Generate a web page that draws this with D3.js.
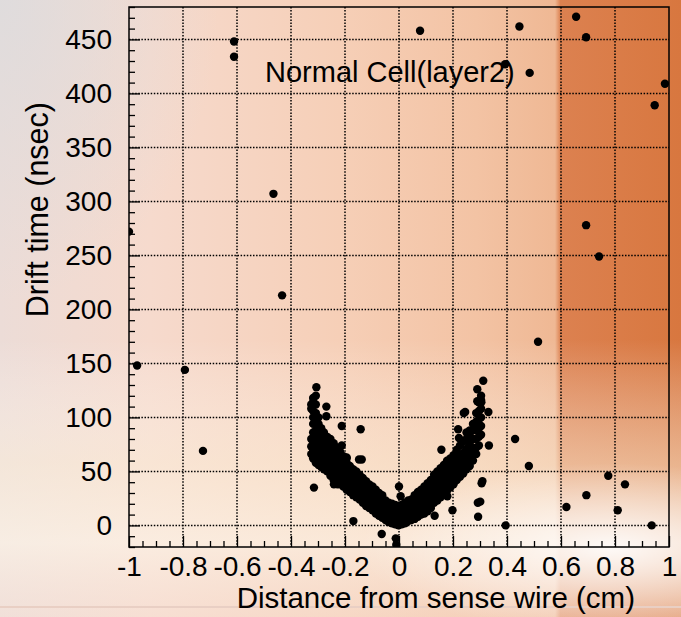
<!DOCTYPE html>
<html>
<head>
<meta charset="utf-8">
<script src="https://cdn.jsdelivr.net/npm/d3@7"></script>
<style>
  body { margin: 0; padding: 0; overflow: hidden; }
  svg { display: block; font-family: "Liberation Sans", Arial, sans-serif; }
</style>
</head>
<body>
<script>
// isolated hits [distance (cm), drift time (nsec)]
var outliers = [
    [-0.611, 448], [-0.611, 434], [0.078, 458], [0.446, 462], [0.656, 471],
    [0.693, 452], [0.393, 427], [0.484, 419], [0.985, 409], [0.947, 389],
    [-0.465, 307], [-1.0, 272], [0.693, 278], [0.741, 249], [-0.433, 213],
    [0.515, 170], [-0.970, 148], [-0.793, 144], [-0.726, 69],
    [0.430, 80], [0.481, 55], [0.395, 0], [0.620, 17], [0.694, 28],
    [0.775, 46], [0.837, 38], [0.810, 14], [0.936, 0]
];

// scattered hits close to the V band
var nearBand = [
    [-0.306, 128], [-0.269, 110], [-0.269, 101], [-0.212, 92], [-0.212, 74],
    [-0.194, 63], [-0.315, 35], [-0.241, 38], [-0.228, 38], [-0.169, 4],
    [-0.142, 89], [-0.148, 61], [-0.138, 61], [-0.064, -8], [-0.012, -12],
    [-0.010, -18], [0.000, 36], [0.006, 27],
    [0.132, 9], [0.179, 27], [0.198, 14], [0.157, 70], [0.245, 105],
    [0.240, 104], [0.219, 89], [0.222, 81], [0.290, 126], [0.312, 134],
    [0.290, 115], [0.305, 114], [0.331, 105], [0.333, 74], [0.306, 39],
    [0.309, 41], [0.292, 21], [0.301, 22], [0.293, 8]
];

// the dense V band, read column by column: [distance, [drift times]]
var bandColumns = [
    [-0.325, [66, 73, 80, 108, 112]],
    [-0.318, [62, 70, 78, 86, 94, 100, 106, 114, 118]],
    [-0.308, [58, 64, 72, 80, 88, 96, 104, 112, 120]],
    [-0.298, [56, 62, 70, 78, 86, 94, 100]],
    [-0.288, [54, 60, 66, 74, 82, 90]],
    [-0.278, [52, 58, 64, 72, 80, 86]],
    [-0.266, [50, 56, 62, 70, 78, 82]],
    [-0.254, [46, 52, 58, 66, 74, 80]],
    [-0.242, [42, 48, 54, 62, 70, 76]],
    [-0.230, [40, 46, 52, 58, 66, 72]],
    [-0.218, [38, 44, 50, 56, 62, 68]],
    [-0.206, [36, 42, 48, 54, 60, 64]],
    [-0.194, [33, 39, 45, 51, 58, 62]],
    [-0.182, [31, 37, 43, 49, 55]],
    [-0.170, [28, 34, 40, 46, 52]],
    [-0.158, [26, 32, 38, 44, 50]],
    [-0.146, [24, 30, 36, 42, 47]],
    [-0.134, [21, 27, 33, 39, 44]],
    [-0.122, [18, 24, 30, 36, 41]],
    [-0.110, [16, 22, 28, 34, 38]],
    [-0.098, [14, 20, 26, 32, 36]],
    [-0.086, [11, 17, 23, 29, 33]],
    [-0.074, [9, 15, 21, 27, 30]],
    [-0.062, [7, 13, 19, 25, 28]],
    [-0.050, [5, 11, 17, 23]],
    [-0.038, [3, 9, 15, 21]],
    [-0.026, [2, 8, 14, 20]],
    [-0.014, [1, 7, 13, 19]],
    [-0.002, [0, 6, 12, 18]],
    [0.010, [1, 7, 13, 19]],
    [0.022, [2, 8, 14, 21]],
    [0.034, [4, 10, 16, 23]],
    [0.046, [5, 11, 17, 24]],
    [0.058, [6, 12, 18, 24, 28]],
    [0.070, [8, 14, 20, 26, 31]],
    [0.082, [10, 16, 22, 28, 33]],
    [0.094, [11, 17, 23, 29, 36]],
    [0.106, [13, 19, 25, 31, 39]],
    [0.118, [16, 22, 28, 34, 42]],
    [0.130, [21, 27, 33, 39, 47]],
    [0.142, [23, 29, 35, 42, 50]],
    [0.154, [26, 32, 38, 45, 53]],
    [0.166, [29, 35, 41, 48, 56]],
    [0.178, [32, 38, 44, 51, 60]],
    [0.190, [35, 41, 47, 54, 62]],
    [0.202, [38, 44, 50, 57, 65]],
    [0.214, [42, 48, 54, 61, 70]],
    [0.226, [45, 51, 57, 64, 74]],
    [0.238, [48, 54, 60, 67, 78]],
    [0.250, [52, 58, 64, 71, 80, 86]],
    [0.262, [55, 62, 68, 75, 83, 88]],
    [0.274, [60, 66, 72, 80, 88, 94]],
    [0.286, [66, 72, 80, 88, 96, 104]],
    [0.296, [74, 82, 90, 98, 106, 114]],
    [0.304, [84, 92, 100, 108, 116, 120]]
];

var xMajor = [-1, -0.8, -0.6, -0.4, -0.2, 0, 0.2, 0.4, 0.6, 0.8, 1];
var yMajor = [0, 50, 100, 150, 200, 250, 300, 350, 400, 450];
var xTitle = "Distance from sense wire (cm)";
var yTitle = "Drift time (nsec)";
var plotLabel = "Normal Cell(layer2)";

var width = 681;
var height = 617;
var plotLeft = 129, plotRight = 669, plotTop = 7, plotBottom = 547;

var svg = d3.select("body").append("svg").attr("width", width).attr("height", height);
var defs = svg.append("defs");

// slide background
var bgH = defs.append("linearGradient").attr("id", "bgH").attr("x1", 0).attr("x2", 1).attr("y1", 0).attr("y2", 0);
[[0, "#ecdcd7"], [0.22, "#f6dacd"], [0.5, "#f6cfb7"], [0.7, "#f3c3a4"], [0.815, "#efb894"], [0.823, "#dc8150"], [1, "#d8773f"]]
    .forEach(function(s) { bgH.append("stop").attr("offset", s[0]).attr("stop-color", s[1]); });

var bgV = defs.append("linearGradient").attr("id", "bgV").attr("x1", 0).attr("x2", 0).attr("y1", 0).attr("y2", 1);
[[0, "#fff", 0], [0.55, "#fff", 0], [0.75, "#fbf0dc", 0.5], [0.88, "#fdf6ea", 0.65], [1, "#f8e6dc", 0.4]]
    .forEach(function(s) { bgV.append("stop").attr("offset", s[0]).attr("stop-color", s[1]).attr("stop-opacity", s[2]); });

var glow = defs.append("radialGradient").attr("id", "glow").attr("cx", 0.5).attr("cy", 0.5).attr("r", 0.5);
glow.append("stop").attr("offset", 0).attr("stop-color", "#ffffff").attr("stop-opacity", 0.9);
glow.append("stop").attr("offset", 1).attr("stop-color", "#ffffff").attr("stop-opacity", 0);

var grey = defs.append("radialGradient").attr("id", "grey").attr("cx", 0).attr("cy", 0).attr("r", 1);
grey.append("stop").attr("offset", 0).attr("stop-color", "#dcdcde").attr("stop-opacity", 0.8);
grey.append("stop").attr("offset", 1).attr("stop-color", "#dcdcde").attr("stop-opacity", 0);

svg.append("rect").attr("width", width).attr("height", height).attr("fill", "url(#bgH)");
svg.append("rect").attr("width", width).attr("height", height).attr("fill", "url(#bgV)");
svg.append("ellipse").attr("cx", 610).attr("cy", 548).attr("rx", 250).attr("ry", 85).attr("fill", "url(#glow)");
svg.append("rect").attr("width", 220).attr("height", 300).attr("fill", "url(#grey)");
svg.append("rect").attr("x", 0).attr("y", 606).attr("width", width).attr("height", 2).attr("fill", "#e9cfc4");

var xScale = d3.scaleLinear().domain([-1, 1]).range([plotLeft, plotRight]);
var yScale = d3.scaleLinear().domain([-20, 480]).range([plotBottom, plotTop]);

// grid
svg.append("g")
    .selectAll("line")
    .data(xMajor.slice(1, -1))
    .enter()
    .append("line")
    .attr("x1", function(d) { return xScale(d); })
    .attr("x2", function(d) { return xScale(d); })
    .attr("y1", plotTop)
    .attr("y2", plotBottom)
    .attr("stroke", "#000")
    .attr("stroke-width", 1.5)
    .attr("stroke-dasharray", "1.5,1.6");

svg.append("g")
    .selectAll("line")
    .data(yMajor)
    .enter()
    .append("line")
    .attr("x1", plotLeft)
    .attr("x2", plotRight)
    .attr("y1", function(d) { return yScale(d); })
    .attr("y2", function(d) { return yScale(d); })
    .attr("stroke", "#000")
    .attr("stroke-width", 1.5)
    .attr("stroke-dasharray", "1.5,1.6");

// points
var points = [];
outliers.forEach(function(p) { points.push(p); });
nearBand.forEach(function(p) { points.push(p); });
bandColumns.forEach(function(c) {
    c[1].forEach(function(t) { points.push([c[0], t]); });
});

defs.append("clipPath").attr("id", "plotClip")
    .append("rect").attr("x", plotLeft).attr("y", plotTop)
    .attr("width", plotRight - plotLeft).attr("height", plotBottom - plotTop);

svg.append("g")
    .attr("clip-path", "url(#plotClip)")
    .selectAll("circle")
    .data(points)
    .enter()
    .append("circle")
    .attr("cx", function(d) { return xScale(d[0]); })
    .attr("cy", function(d) { return yScale(d[1]); })
    .attr("r", 4.2)
    .attr("fill", "#000");

// axes: ticks point inward like ROOT
var fontSize = 28;
var labelFont = "Liberation Sans, Arial, sans-serif";

var yMinor = d3.range(-20, 481, 10).filter(function(v) { return v % 50 != 0; });
svg.append("g")
    .attr("transform", "translate(" + plotLeft + ",0)")
    .call(d3.axisLeft(yScale).tickValues(yMinor).tickSize(-6).tickFormat(""))
    .call(function(g) { g.select(".domain").remove(); })
    .selectAll("line").attr("stroke", "#000").attr("stroke-width", 1.3);

var yAxis = svg.append("g")
    .attr("transform", "translate(" + plotLeft + ",0)")
    .call(d3.axisLeft(yScale).tickValues(yMajor).tickSize(-11).tickPadding(17)
        .tickFormat(function(d) { return String(d); }));
yAxis.select(".domain").remove();
yAxis.selectAll("line").attr("stroke", "#000").attr("stroke-width", 1.3);
yAxis.selectAll("text").attr("fill", "#000").style("font-size", fontSize + "px").style("font-family", labelFont);

var xMinor = d3.range(-1, 1.0001, 0.05).filter(function(v) { return Math.abs(Math.round(v * 5) - v * 5) > 0.01; });
svg.append("g")
    .attr("transform", "translate(0," + plotBottom + ")")
    .call(d3.axisBottom(xScale).tickValues(xMinor).tickSize(-6).tickFormat(""))
    .call(function(g) { g.select(".domain").remove(); })
    .selectAll("line").attr("stroke", "#000").attr("stroke-width", 1.3);

var xAxis = svg.append("g")
    .attr("transform", "translate(0," + plotBottom + ")")
    .call(d3.axisBottom(xScale).tickValues(xMajor).tickSize(-11).tickPadding(9)
        .tickFormat(function(d) { return String(Math.round(d * 10) / 10); }));
xAxis.select(".domain").remove();
xAxis.selectAll("line").attr("stroke", "#000").attr("stroke-width", 1.3);
xAxis.selectAll("text").attr("fill", "#000").style("font-size", fontSize + "px").style("font-family", labelFont);

// frame
svg.append("rect")
    .attr("x", plotLeft)
    .attr("y", plotTop)
    .attr("width", plotRight - plotLeft)
    .attr("height", plotBottom - plotTop)
    .attr("fill", "none")
    .attr("stroke", "#000")
    .attr("stroke-width", 1.5);

// titles
svg.append("text")
    .attr("x", 635)
    .attr("y", 608)
    .attr("text-anchor", "end")
    .style("font-size", "29.5px")
    .text(xTitle);

svg.append("text")
    .attr("transform", "translate(48,102) rotate(-90)")
    .attr("text-anchor", "end")
    .style("font-size", "30.5px")
    .text(yTitle);

svg.append("text")
    .attr("x", 265)
    .attr("y", 82)
    .style("font-size", "29px")
    .text(plotLabel);
</script>
</body>
</html>
